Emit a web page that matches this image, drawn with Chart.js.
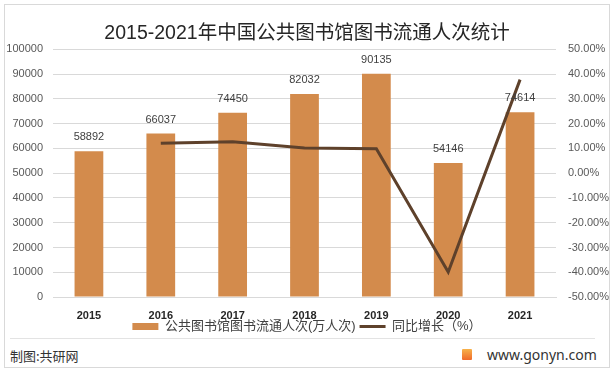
<!DOCTYPE html>
<html>
<head>
<meta charset="utf-8">
<script src="https://cdn.jsdelivr.net/npm/chart.js@4"></script>
<style>
  html, body { margin: 0; padding: 0; background: #fff; }
  #wrap { position: relative; width: 614px; height: 371px; overflow: hidden; background: #fff; }
  #frame { position: absolute; left: 4px; top: 4px; width: 604px; height: 362px; border: 1px solid #d9d9d9; box-sizing: content-box; }
  #chart { position: absolute; left: 0; top: 0; }
  #sep { position: absolute; left: 10px; top: 338px; width: 585px; height: 1px; background: #e3e3e3; }
  #src { position: absolute; left: 10px; top: 346px; font: 13px "Noto Sans CJK SC", sans-serif; color: #333; }
  #logo { position: absolute; left: 462px; top: 349px; width: 10px; height: 11px; background: linear-gradient(#f7b24a, #f06a2a); border-radius: 1px; }
  #site { position: absolute; left: 487px; top: 345px; font: 14px "Noto Sans", "Open Sans", sans-serif; color: #333; }
</style>
</head>
<body>
<div id="wrap">
  <div id="frame"></div>
  <canvas id="chart" width="614" height="345"></canvas>
  <div id="sep"></div>
  <div id="src">制图:共研网</div>
  <div id="logo"></div>
  <div id="site">www.gonyn.com</div>
</div>
<script>
const years = ['2015', '2016', '2017', '2018', '2019', '2020', '2021'];
const circulation = [58892, 66037, 74450, 82032, 90135, 54146, 74614];
const growthPct = [null, 12.13, 12.74, 10.18, 9.88, -39.93, 37.80];
const barLabel = '公共图书馆图书流通人次(万人次)';
const lineLabel = '同比增长（%）';

const FONT = '"Liberation Sans", "Noto Sans CJK SC", sans-serif';

const valueLabels = {
  id: 'valueLabels',
  afterDatasetsDraw(chart) {
    const meta = chart.getDatasetMeta(0);
    const ctx = chart.ctx;
    ctx.save();
    ctx.font = '11px ' + FONT;
    ctx.fillStyle = '#404040';
    ctx.textAlign = 'center';
    ctx.textBaseline = 'middle';
    meta.data.forEach((bar, i) => {
      ctx.fillText(String(circulation[i]), bar.x, bar.y - 14);
    });
    ctx.restore();
  },
  afterDraw(chart) {
    // category labels under the axis, positioned by the x scale
    const xs = chart.scales.x;
    const ctx = chart.ctx;
    ctx.save();
    ctx.font = 'bold 11px ' + FONT;
    ctx.fillStyle = '#262626';
    ctx.textAlign = 'center';
    ctx.textBaseline = 'middle';
    years.forEach((y, i) => {
      ctx.fillText(y, xs.getPixelForTick(i), chart.chartArea.bottom + 19);
    });
    ctx.restore();
  }
};

new Chart(document.getElementById('chart'), {
  data: {
    labels: years,
    datasets: [
      {
        type: 'bar',
        label: barLabel,
        data: circulation,
        backgroundColor: '#d38b4c',
        borderWidth: 0,
        categoryPercentage: 1,
        barPercentage: 0.4,
        yAxisID: 'y',
        order: 1
      },
      {
        type: 'line',
        label: lineLabel,
        data: growthPct,
        borderColor: '#5e412b',
        backgroundColor: '#5e412b',
        borderWidth: 3,
        pointRadius: 0,
        tension: 0,
        yAxisID: 'y1',
        order: 0
      }
    ]
  },
  options: {
    responsive: false,
    animation: false,
    devicePixelRatio: 1,
    layout: { padding: { top: 10, left: 0, right: 0, bottom: 2 } },
    plugins: {
      title: {
        display: true,
        text: '2015-2021年中国公共图书馆图书流通人次统计',
        color: '#262626',
        font: { size: 19.5, family: FONT, weight: 'normal' },
        padding: { top: 12, bottom: 4 }
      },
      legend: {
        position: 'bottom',
        labels: {
          usePointStyle: true,
          pointStyleWidth: 26,
          boxHeight: 7,
          padding: 4,
          color: '#404040',
          font: { size: 13, family: FONT },
          sort: (a, b) => a.datasetIndex - b.datasetIndex,
          generateLabels(chart) {
            return chart.data.datasets.map((ds, i) => ({
              text: ds.label,
              datasetIndex: i,
              fillStyle: i === 0 ? '#d38b4c' : '#5e412b',
              strokeStyle: i === 0 ? '#d38b4c' : '#5e412b',
              lineWidth: i === 0 ? 0 : 3,
              pointStyle: i === 0 ? 'rect' : 'line',
              fontColor: '#404040',
              hidden: false
            }));
          }
        }
      },
      tooltip: { enabled: false }
    },
    scales: {
      x: {
        grid: { display: false, drawTicks: false },
        border: { display: true, color: '#d9d9d9' },
        ticks: { display: false },
        afterFit(s) { s.height = 19; }
      },
      y: {
        position: 'left',
        min: 0, max: 100000,
        ticks: { stepSize: 10000, color: '#595959', font: { size: 11, family: FONT }, padding: 10,
                 callback: v => String(v) },
        grid: { color: '#d9d9d9', drawTicks: false },
        border: { display: false },
        afterFit(s) { s.width = 53; }
      },
      y1: {
        position: 'right',
        min: -50, max: 50,
        ticks: { stepSize: 10, color: '#595959', font: { size: 11, family: FONT }, padding: 12,
                 callback: v => v.toFixed(2) + '%' },
        grid: { display: false, drawTicks: false },
        border: { display: false },
        afterFit(s) { s.width = 58; }
      }
    }
  },
  plugins: [valueLabels]
});
</script>
</body>
</html>
